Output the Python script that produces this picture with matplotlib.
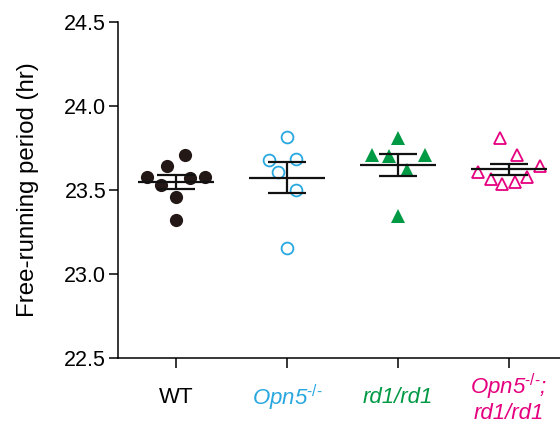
import numpy as np
import matplotlib
matplotlib.use("Agg")
import matplotlib.pyplot as plt

plt.rcParams['font.family'] = ['Liberation Sans', 'DejaVu Sans']
plt.rcParams['mathtext.fontset'] = 'custom'
plt.rcParams['mathtext.rm'] = 'Liberation Sans'
plt.rcParams['mathtext.it'] = 'Liberation Sans:italic'

# free-running period (hr) for each mouse
wt = [23.71, 23.64, 23.58, 23.53, 23.57, 23.58, 23.46, 23.32]
opn5 = [23.815, 23.68, 23.685, 23.61, 23.50, 23.155]
rd1 = [23.81, 23.71, 23.70, 23.71, 23.62, 23.345]
double = [23.81, 23.71, 23.64, 23.61, 23.565, 23.535, 23.55, 23.575]

# horizontal scatter of the points inside each column
wt_jit = [0.08, -0.08, -0.26, -0.135, 0.125, 0.26, 0, 0]
opn5_jit = [0, -0.16, 0.08, -0.08, 0.08, 0]
rd1_jit = [0, -0.235, -0.08, 0.24, 0.08, 0]
double_jit = [-0.08, 0.07, 0.28, -0.28, -0.16, -0.06, 0.05, 0.16]

labels = ['WT', r'Opn5$^{\text{-/-}}$', 'rd1/rd1', 'Opn5$^{\\text{-/-}}$;\nrd1/rd1']
colors = ['#231815', '#29a8e0', '#009944', '#e5007f']

groups = [wt, opn5, rd1, double]
jitters = [wt_jit, opn5_jit, rd1_jit, double_jit]
markers = ['o', 'o', '^', '^']
filled = [True, False, True, False]

fig = plt.figure(figsize=(5.6, 4.25), dpi=100)
ax = fig.add_axes([118 / 560, 67 / 425, 442 / 560, 336 / 425])

for i in range(4):
    pos = i + 1
    vals = np.array(groups[i])
    xs = pos + np.array(jitters[i])
    if filled[i]:
        ax.plot(xs, vals, linestyle='none', marker=markers[i], markersize=9.5,
                color=colors[i], markeredgewidth=0, zorder=2, clip_on=False)
    else:
        ax.plot(xs, vals, linestyle='none', marker=markers[i], markersize=8.5,
                markerfacecolor='none', markeredgecolor=colors[i],
                markeredgewidth=1.3, zorder=2, clip_on=False)

    # mean +/- SEM
    m = vals.mean()
    sem = vals.std(ddof=1) / np.sqrt(len(vals))
    ax.hlines(m, pos - 0.34, pos + 0.34, color='#111111', lw=1.6, zorder=3)
    ax.hlines([m - sem, m + sem], pos - 0.17, pos + 0.17, color='#111111', lw=1.6, zorder=3)
    ax.vlines(pos, m - sem, m + sem, color='#111111', lw=1.6, zorder=3)

ax.set_xlim(0.477, 4.46)
ax.set_ylim(22.5, 24.5)
ax.set_yticks([22.5, 23.0, 23.5, 24.0, 24.5])
ax.set_yticklabels(['22.5', '23.0', '23.5', '24.0', '24.5'])
ax.set_xticks([1, 2, 3, 4])
ax.set_xticklabels(labels)

ax.spines['top'].set_visible(False)
ax.spines['right'].set_visible(False)
ax.spines['left'].set_linewidth(1.1)
ax.spines['bottom'].set_linewidth(1.1)

ax.tick_params(axis='y', length=6.5, width=1.1, labelsize=15.5, pad=2)
ax.tick_params(axis='x', length=7, width=1.1, labelsize=16, pad=21.5)

for i, t in enumerate(ax.get_xticklabels()):
    t.set_color(colors[i] if i > 0 else 'black')
    t.set_verticalalignment('center')
    if i > 0:
        t.set_fontstyle('italic')
    t.set_linespacing(1.05)

ax.set_ylabel('Free-running period (hr)', fontsize=17.3, labelpad=18)

fig.savefig('out.png', dpi=100)
